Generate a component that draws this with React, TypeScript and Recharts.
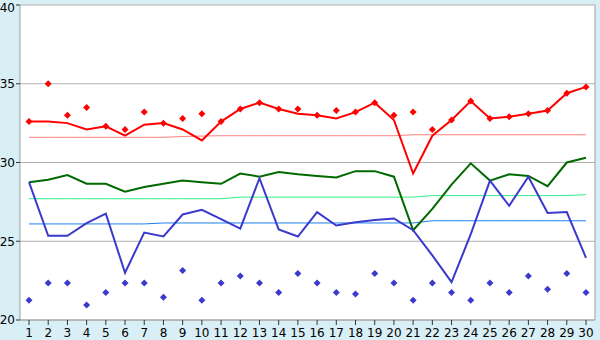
import { LineChart, Line, XAxis, YAxis, CartesianGrid } from "recharts";

const days = Array.from({ length: 30 }, (_, i) => String(i + 1));

const redLine = [32.6, 32.6, 32.5, 32.1, 32.3, 31.7, 32.4, 32.5, 32.1, 31.4, 32.6, 33.4, 33.8, 33.4, 33.1, 33.0, 32.8, 33.2, 33.8, 32.7, 29.3, 31.7, 32.7, 33.9, 32.8, 32.9, 33.1, 33.3, 34.4, 34.8];
const redPoints = [32.6, 35.0, 33.0, 33.5, 32.3, 32.1, 33.2, 32.5, 32.8, 33.1, 32.6, 33.4, 33.8, 33.4, 33.4, 33.0, 33.3, 33.2, 33.8, 33.0, 33.2, 32.1, 32.7, 33.9, 32.8, 32.9, 33.1, 33.3, 34.4, 34.8];
const redAvg = [31.6, 31.6, 31.6, 31.6, 31.6, 31.6, 31.6, 31.6, 31.65, 31.68, 31.7, 31.7, 31.7, 31.7, 31.7, 31.7, 31.7, 31.7, 31.7, 31.7, 31.76, 31.76, 31.76, 31.76, 31.76, 31.76, 31.76, 31.76, 31.76, 31.76];

const greenLine = [28.75, 28.9, 29.2, 28.65, 28.65, 28.15, 28.45, 28.65, 28.85, 28.75, 28.65, 29.3, 29.1, 29.4, 29.25, 29.15, 29.05, 29.45, 29.45, 29.1, 25.7, 27.05, 28.6, 29.95, 28.85, 29.25, 29.15, 28.5, 30.0, 30.3];
const greenAvg = [27.7, 27.7, 27.7, 27.7, 27.7, 27.7, 27.7, 27.7, 27.7, 27.7, 27.7, 27.8, 27.8, 27.8, 27.8, 27.8, 27.8, 27.8, 27.8, 27.8, 27.8, 27.9, 27.9, 27.9, 27.9, 27.9, 27.9, 27.9, 27.9, 27.96];

const blueLine = [28.75, 25.35, 25.35, 26.15, 26.75, 23.0, 25.55, 25.3, 26.7, 27.0, 26.4, 25.8, 29.0, 25.75, 25.3, 26.85, 26.0, 26.2, 26.35, 26.45, 25.7, 24.1, 22.4, 25.45, 28.85, 27.25, 29.1, 26.8, 26.85, 23.95];
const bluePoints = [21.25, 22.35, 22.35, 20.95, 21.75, 22.35, 22.35, 21.45, 23.15, 21.25, 22.35, 22.8, 22.35, 21.75, 22.95, 22.35, 21.75, 21.65, 22.95, 22.35, 21.25, 22.35, 21.75, 21.25, 22.35, 21.75, 22.8, 21.95, 22.95, 21.75];
const blueAvg = [26.1, 26.1, 26.1, 26.1, 26.1, 26.1, 26.1, 26.16, 26.16, 26.16, 26.16, 26.16, 26.16, 26.16, 26.16, 26.16, 26.16, 26.16, 26.16, 26.16, 26.16, 26.3, 26.3, 26.3, 26.3, 26.3, 26.3, 26.3, 26.3, 26.3];

const yTicks = [20, 25, 30, 35, 40];

const data = days.map((d, i) => ({
  day: d,
  redLine: redLine[i],
  redPoints: redPoints[i],
  redAvg: redAvg[i],
  greenLine: greenLine[i],
  greenAvg: greenAvg[i],
  blueLine: blueLine[i],
  bluePoints: bluePoints[i],
  blueAvg: blueAvg[i],
}));

function diamond(color: string) {
  return (props: any) => {
    const { cx, cy, index } = props;
    if (cx == null || cy == null) return <g key={index} />;
    return (
      <path
        key={index}
        d={`M${cx},${cy - 3.5}L${cx + 3.5},${cy}L${cx},${cy + 3.5}L${cx - 3.5},${cy}Z`}
        fill={color}
        stroke="none"
      />
    );
  };
}

const tickStyle = { fill: "#000", fontSize: 12, fontFamily: "DejaVu Sans, Verdana, sans-serif" };

export default function App() {
  return (
    <div style={{ position: "absolute", left: 0, top: 0, width: 600, height: 340, background: "#d9eff6" }}>
      <LineChart width={600} height={340} data={data} margin={{ top: 5, right: 0, bottom: 0, left: 0 }}>
        <CartesianGrid fill="#fff" stroke="#b0b0b0" vertical={false} />
        <XAxis
          dataKey="day"
          padding={{ left: 9, right: 9 }}
          axisLine={{ stroke: "#a0a0a0" }}
          tickLine={{ stroke: "#333" }}
          tickSize={5}
          tickMargin={3}
          height={20}
          interval={0}
          tick={tickStyle}
        />
        <YAxis
          domain={[20, 40]}
          ticks={yTicks}
          axisLine={{ stroke: "#a0a0a0" }}
          tickLine={{ stroke: "#333" }}
          tickSize={4}
          tickMargin={1}
          width={20}
          tick={tickStyle}
        />
        <YAxis
          yAxisId="right"
          orientation="right"
          domain={[20, 40]}
          ticks={yTicks}
          tick={false}
          tickLine={false}
          axisLine={{ stroke: "#a0a0a0" }}
          width={5}
        />
        <Line dataKey="redAvg" stroke="#ff8080" strokeWidth={1} dot={false} isAnimationActive={false} />
        <Line dataKey="greenAvg" stroke="#33ee88" strokeWidth={1} dot={false} isAnimationActive={false} />
        <Line dataKey="blueAvg" stroke="#1a80f0" strokeWidth={1} dot={false} isAnimationActive={false} />
        <Line dataKey="greenLine" stroke="#006a00" strokeWidth={2} dot={false} isAnimationActive={false} />
        <Line dataKey="blueLine" stroke="#3a3acc" strokeWidth={2} dot={false} isAnimationActive={false} />
        <Line dataKey="redLine" stroke="#ff0000" strokeWidth={2} dot={false} isAnimationActive={false} />
        <Line dataKey="redPoints" stroke="none" dot={diamond("#ff0000")} activeDot={false} isAnimationActive={false} />
        <Line dataKey="bluePoints" stroke="none" dot={diamond("#3a3acc")} activeDot={false} isAnimationActive={false} />
      </LineChart>
    </div>
  );
}
